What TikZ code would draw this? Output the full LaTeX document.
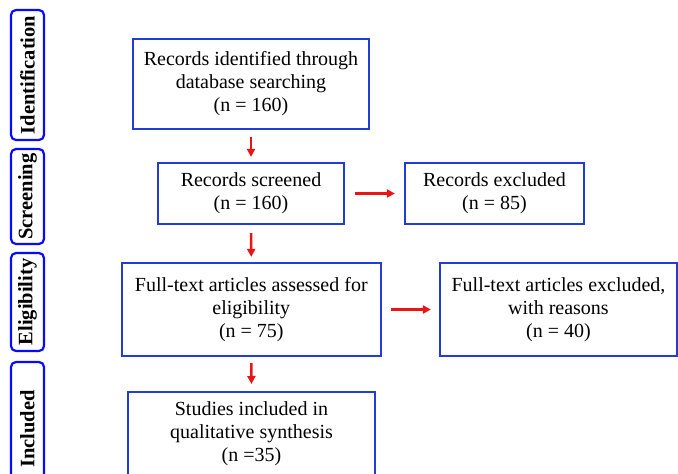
\documentclass[tikz,border=0pt]{standalone}
\usepackage{fontspec}
\setmainfont{Liberation Serif}
\usetikzlibrary{arrows.meta}
\definecolor{boxblue}{RGB}{35,60,215}
\definecolor{sideblue}{RGB}{10,10,250}
\definecolor{arrred}{RGB}{235,20,20}
\tikzset{
  txt/.style={font=\fontsize{20}{23}\selectfont},
  mainbox/.style={draw=boxblue, line width=2.2pt, rectangle, align=center,
    inner sep=0pt, txt},
  sidebox/.style={draw=sideblue, line width=2.2pt, rounded corners=5pt,
    inner sep=0pt, minimum width=33pt},
  sidetext/.style={rotate=90, font=\fontsize{20.5}{22}\selectfont\bfseries},
  flow/.style={draw=arrred, line width=2.5pt, -{Triangle[length=8pt,width=8pt]}}
}
\begin{document}
\begin{tikzpicture}[x=1pt,y=-1pt]
\useasboundingbox (0,0) rectangle (678,474);
\clip (0,0) rectangle (678,474);
% side labels
\node[sidebox, minimum height=130pt] (sI) at (27.5,75) {};
\node[sidetext] (tI) at (sI.center) {Identification};
\node[sidebox, minimum height=95pt] (sS) at (27.5,196.5) {};
\node[sidetext] (tS) at (sS.center) {Screening};
\node[sidebox, minimum height=98pt] (sE) at (27.5,302) {};
\node[sidetext] (tE) at (sE.center) {Eligibility};
\node[sidebox, minimum height=134pt] (sN) at (27.5,429) {};
\node[sidetext] (tN) at (sN.center) {Included};
% main boxes
\node[mainbox, minimum width=236pt, minimum height=90pt] (b1) at (251,84)
  {Records identified through\\database searching\\(n = 160)};
\node[mainbox, minimum width=186pt, minimum height=61pt] (b2) at (251,193.5)
  {Records screened\\(n = 160)};
\node[mainbox, minimum width=179pt, minimum height=61pt] (x2) at (494.5,193.5)
  {Records excluded\\(n = 85)};
\node[mainbox, minimum width=259pt, minimum height=93pt] (b3) at (251.3,309.5)
  {Full-text articles assessed for\\eligibility\\(n = 75)};
\node[mainbox, minimum width=237pt, minimum height=93pt] (x3) at (558.5,309.5)
  {Full-text articles excluded,\\with reasons\\(n = 40)};
\node[mainbox, minimum width=247pt, minimum height=100pt, anchor=north] (b4) at (251.5,391)
  {};
\node[txt, align=center, anchor=north, inner sep=0pt] (t4) at (251.5,401)
  {Studies included in\\qualitative synthesis\\(n =35)};
% arrows
\draw[flow, shorten <=7pt, shorten >=5pt] (b1.south) -- (b2.north);
\draw[flow, shorten <=8pt, shorten >=5pt] (b2.south) -- (b3.north);
\draw[flow, shorten <=6pt, shorten >=7pt] (b3.south) -- (b4.north);
\draw[flow, shorten <=10pt, shorten >=9pt] (b2.east) -- (x2.west);
\draw[flow, shorten <=9pt, shorten >=8pt] (b3.east) -- (x3.west);
\end{tikzpicture}
\end{document}
